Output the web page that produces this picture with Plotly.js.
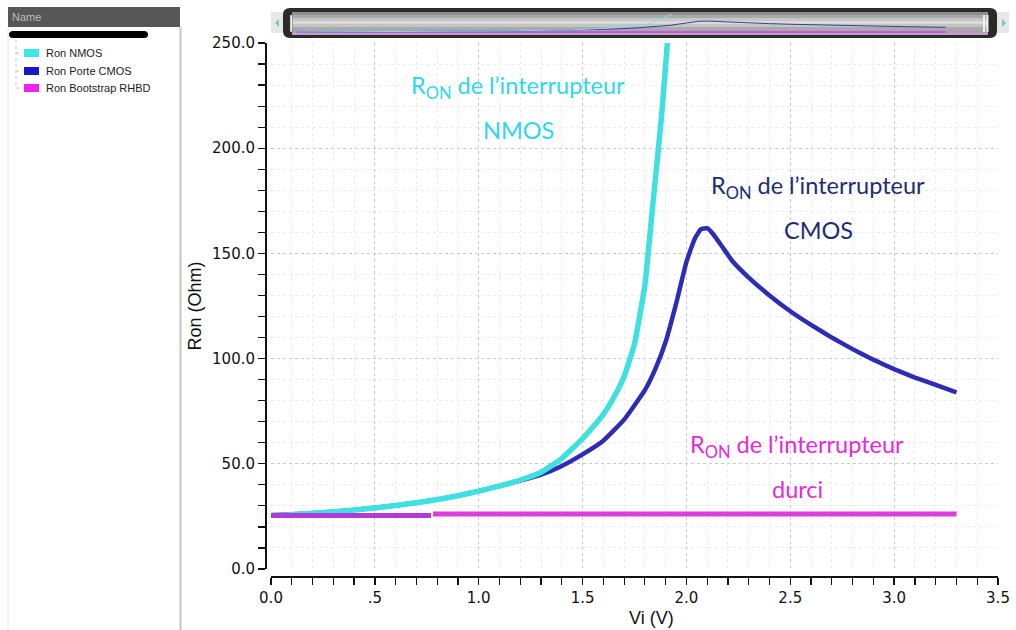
<!DOCTYPE html>
<html>
<head>
<meta charset="utf-8">
<script src="https://cdn.plot.ly/plotly-3.0.1.min.js"></script>
<style>
html,body{margin:0;padding:0;background:#fff;}
#chart{width:1016px;height:630px;}
</style>
</head>
<body>
<div id="chart"></div>
<script>
// ---- data ----
const seriesNames = ['Ron NMOS', 'Ron Porte CMOS', 'Ron Bootstrap RHBD'];

const nmosVi  = [0, 0.1, 0.2, 0.3, 0.4, 0.5, 0.6, 0.7, 0.8, 0.9, 1.0, 1.1, 1.2, 1.3, 1.4, 1.5, 1.55, 1.6, 1.65, 1.7, 1.75, 1.8, 1.84, 1.88, 1.91];
const nmosRon = [25.5, 25.8, 26.5, 27.2, 28.0, 29.0, 30.2, 31.5, 33.0, 34.8, 37.0, 39.5, 42.3, 46.0, 52.5, 62.0, 67.5, 73.5, 81.5, 91.5, 107, 135, 175, 215, 252];

const cmosVi  = [0, 0.2, 0.4, 0.6, 0.8, 1.0, 1.2, 1.3, 1.4, 1.5, 1.6, 1.7, 1.8, 1.85, 1.9, 1.95, 2.0, 2.04, 2.07, 2.1, 2.13, 2.17, 2.22, 2.3, 2.4, 2.5, 2.6, 2.7, 2.8, 2.9, 3.0, 3.1, 3.2, 3.3];
const cmosRon = [25.5, 26.5, 28.0, 30.2, 33.0, 37.0, 42.0, 44.8, 49.0, 54.5, 61.0, 71.0, 85.0, 95.0, 108, 126, 146, 157, 161.5, 162, 159, 153.5, 146.5, 138.5, 130, 122.5, 116, 110, 104.5, 99.5, 95, 91, 87.5, 84];

const rhbdVi  = [0, 0.77, 0.78, 3.3];
const rhbdRon = [25.4, 25.4, 26.2, 26.2];

const xTickVals = [0, 0.5, 1.0, 1.5, 2.0, 2.5, 3.0, 3.5];
const xTickText = ['0.0', '.5', '1.0', '1.5', '2.0', '2.5', '3.0', '3.5'];
const yTickVals = [0, 50, 100, 150, 200, 250];

const xTitle = 'Vi (V)';
const yTitle = 'Ron (Ohm)';

const annoLines = [
  ['R<sub>ON</sub> de l’interrupteur', 'NMOS'],
  ['R<sub>ON</sub> de l’interrupteur', 'CMOS'],
  ['R<sub>ON</sub> de l’interrupteur', 'durci']
];

// ---- colours ----
const cCyan = '#40e0e0', cBlue = '#2c2cb4', cMag = '#dd3ddd', cMagDark = '#b23ad6';

const W = 1016, H = 630;
const px = v => v / W;
const py = v => 1 - v / H;

const split = rhbdVi.indexOf(0.77) + 1;

const traces = [
  {x: cmosVi, y: cmosRon, name: seriesNames[1], mode: 'lines', line: {color: cBlue, width: 4.5, shape: 'spline', smoothing: 0.35}, xaxis: 'x', yaxis: 'y', showlegend: false},
  {x: nmosVi, y: nmosRon, name: seriesNames[0], mode: 'lines', line: {color: cCyan, width: 5.5, shape: 'spline', smoothing: 0.35}, xaxis: 'x', yaxis: 'y', showlegend: false},
  {x: rhbdVi.slice(0, split), y: rhbdRon.slice(0, split), name: seriesNames[2], mode: 'lines', line: {color: cMagDark, width: 5}, xaxis: 'x', yaxis: 'y', showlegend: false},
  {x: rhbdVi.slice(split), y: rhbdRon.slice(split), name: seriesNames[2], mode: 'lines', line: {color: cMag, width: 5}, xaxis: 'x', yaxis: 'y', showlegend: false},
  // overview strip in the scroll bar
  {x: rhbdVi, y: rhbdRon, mode: 'lines', line: {color: '#c060d0', width: 2}, xaxis: 'x2', yaxis: 'y2', showlegend: false, hoverinfo: 'skip'},
  {x: cmosVi, y: cmosRon, mode: 'lines', line: {color: '#3a3aa0', width: 1}, xaxis: 'x2', yaxis: 'y2', showlegend: false, hoverinfo: 'skip'},
  {x: nmosVi, y: nmosRon, mode: 'lines', line: {color: '#80e0e0', width: 1}, xaxis: 'x2', yaxis: 'y2', showlegend: false, hoverinfo: 'skip'}
];

const tickFont = {family: 'DejaVu Sans, Verdana, sans-serif', size: 15, color: '#111'};
const titleFont = {family: 'Liberation Sans, Arial, sans-serif', size: 18, color: '#111'};

const shapes = [];
const annotations = [];

// left "Name" panel
shapes.push({type: 'rect', xref: 'paper', yref: 'paper', x0: px(8), x1: px(180), y0: py(27), y1: py(7), fillcolor: '#575757', line: {width: 0}, layer: 'above'});
shapes.push({type: 'line', xref: 'paper', yref: 'paper', x0: px(180.5), x1: px(180.5), y0: py(27), y1: py(630), line: {color: '#c4c4c4', width: 2}});
shapes.push({type: 'line', xref: 'paper', yref: 'paper', x0: px(8), x1: px(8), y0: py(27), y1: py(630), line: {color: '#e4e4e4', width: 1}});
shapes.push({type: 'path', xref: 'paper', yref: 'paper', layer: 'above',
  path: `M ${px(13)},${py(31)} L ${px(144)},${py(31)} Q ${px(148)},${py(31)} ${px(148)},${py(34.5)} Q ${px(148)},${py(38)} ${px(144)},${py(38)} L ${px(13)},${py(38)} Q ${px(9)},${py(38)} ${px(9)},${py(34.5)} Q ${px(9)},${py(31)} ${px(13)},${py(31)} Z`,
  fillcolor: '#000', line: {width: 0}});
annotations.push({xref: 'paper', yref: 'paper', x: px(10), y: py(17), text: 'Name', showarrow: false, xanchor: 'left', yanchor: 'middle', font: {family: 'Liberation Sans, Arial, sans-serif', size: 11, color: '#bdbdbd'}});
// tree lines
shapes.push({type: 'line', xref: 'paper', yref: 'paper', x0: px(16), x1: px(16), y0: py(40), y1: py(88), line: {color: '#c8c8c8', width: 1, dash: 'dot'}});
const legendColors = ['#3ee8e8', '#1818c8', '#ee22ee'];
const legendY = [53, 71, 88];
seriesNames.forEach((n, i) => {
  const yc = legendY[i];
  shapes.push({type: 'line', xref: 'paper', yref: 'paper', x0: px(16), x1: px(23), y0: py(yc), y1: py(yc), line: {color: '#c8c8c8', width: 1, dash: 'dot'}});
  shapes.push({type: 'rect', xref: 'paper', yref: 'paper', x0: px(24), x1: px(39), y0: py(yc + 4), y1: py(yc - 4), fillcolor: legendColors[i], line: {width: 0}});
  annotations.push({xref: 'paper', yref: 'paper', x: px(44), y: py(yc), text: n, showarrow: false, xanchor: 'left', yanchor: 'middle', font: {family: 'Liberation Sans, Arial, sans-serif', size: 11, color: '#222'}});
});

// scroll bar at top
shapes.push({type: 'path', xref: 'paper', yref: 'paper', layer: 'below',
  path: `M ${px(290)},${py(8)} L ${px(990)},${py(8)} Q ${px(997)},${py(8)} ${px(997)},${py(15)} L ${px(997)},${py(31)} Q ${px(997)},${py(38)} ${px(990)},${py(38)} L ${px(290)},${py(38)} Q ${px(283)},${py(38)} ${px(283)},${py(31)} L ${px(283)},${py(15)} Q ${px(283)},${py(8)} ${px(290)},${py(8)} Z`,
  fillcolor: '#2b2a28', line: {width: 0}});
const stripes = [[12, 15, '#8f8f8f'], [15, 18, '#a9a9a9'], [18, 21, '#c6c6c6'], [21, 24, '#dadada'], [24, 27, '#c4c4c4'], [27, 30, '#aaaaaa'], [30, 33, '#b49cb8'], [33, 35, '#c0a0c8']];
stripes.forEach(s => shapes.push({type: 'rect', xref: 'paper', yref: 'paper', layer: 'below', x0: px(292), x1: px(988), y0: py(s[1]), y1: py(s[0]), fillcolor: s[2], line: {width: 0}}));
shapes.push({type: 'rect', xref: 'paper', yref: 'paper', layer: 'above', x0: px(290), x1: px(292.5), y0: py(32), y1: py(15), fillcolor: '#f0f0f0', line: {color: '#555', width: 0.5}});
shapes.push({type: 'rect', xref: 'paper', yref: 'paper', layer: 'above', x0: px(983), x1: px(985), y0: py(32), y1: py(15), fillcolor: '#f0f0f0', line: {width: 0}});
shapes.push({type: 'rect', xref: 'paper', yref: 'paper', layer: 'above', x0: px(986.5), x1: px(988.5), y0: py(32), y1: py(15), fillcolor: '#f0f0f0', line: {width: 0}});
shapes.push({type: 'path', xref: 'paper', yref: 'paper', path: `M ${px(275)},${py(23)} L ${px(279)},${py(19)} L ${px(279)},${py(27)} Z`, fillcolor: '#7fc0c8', line: {width: 0}});
shapes.push({type: 'path', xref: 'paper', yref: 'paper', path: `M ${px(1006)},${py(23)} L ${px(1002)},${py(19)} L ${px(1002)},${py(27)} Z`, fillcolor: '#7fc0c8', line: {width: 0}});
shapes.push({type: 'rect', xref: 'paper', yref: 'paper', layer: 'below', x0: px(271), x1: px(283), y0: py(33), y1: py(12), fillcolor: '#e8e8e8', line: {width: 0}});
shapes.push({type: 'rect', xref: 'paper', yref: 'paper', layer: 'below', x0: px(997), x1: px(1009), y0: py(33), y1: py(12), fillcolor: '#e8e8e8', line: {width: 0}});

// text annotations in the plot
const annoPos = [[518, 87, 130, '#2fd6ec'], [818, 187, 230, '#1c2e70'], [797, 446, 489, '#e42cd2']];
annoLines.forEach((lines, i) => {
  const p = annoPos[i];
  annotations.push({xref: 'paper', yref: 'paper', x: px(p[0]), y: py(p[1]), text: lines[0], showarrow: false, xanchor: 'center', yanchor: 'middle', font: {family: 'Lato, Open Sans, sans-serif', size: 23.5, color: p[3]}});
  annotations.push({xref: 'paper', yref: 'paper', x: px(p[0]), y: py(p[2]), text: lines[1], showarrow: false, xanchor: 'center', yanchor: 'middle', font: {family: 'Lato, Open Sans, sans-serif', size: 23.5, color: p[3]}});
});

// x axis title (placed where the reference has it)
annotations.push({xref: 'paper', yref: 'paper', x: px(651), y: py(618), text: xTitle, showarrow: false, xanchor: 'center', yanchor: 'middle', font: titleFont});

const layout = {
  width: W, height: H,
  margin: {l: 0, r: 0, t: 0, b: 0},
  paper_bgcolor: '#ffffff',
  plot_bgcolor: '#ffffff',
  showlegend: false,
  xaxis: {
    domain: [px(271), px(998)],
    range: [0, 3.5],
    anchor: 'free', position: py(576),
    tickvals: xTickVals, ticktext: xTickText,
    ticks: 'outside', ticklen: 7, tickwidth: 1.3, tickcolor: '#111',
    showline: true, linecolor: '#111', linewidth: 1.5,
    showgrid: true, gridcolor: '#c9c9c9', griddash: 'dot', gridwidth: 1,
    minor: {dtick: 0.1, ticks: 'outside', ticklen: 7, tickcolor: '#111', tickwidth: 1.2, showgrid: true, gridcolor: '#ececec', griddash: 'dot', gridwidth: 1},
    zeroline: false,
    tickfont: tickFont,
    automargin: false,
    fixedrange: true
  },
  yaxis: {
    domain: [py(569), py(43)],
    range: [0, 250],
    anchor: 'free', position: px(265),
    tickvals: yTickVals, tickformat: '.1f',
    ticks: 'outside', ticklen: 7, tickwidth: 1.3, tickcolor: '#111',
    showline: true, linecolor: '#111', linewidth: 1.5,
    showgrid: true, gridcolor: '#c9c9c9', griddash: 'dot', gridwidth: 1,
    minor: {dtick: 10, ticks: 'outside', ticklen: 7, tickcolor: '#111', tickwidth: 1.2, showgrid: true, gridcolor: '#ececec', griddash: 'dot', gridwidth: 1},
    zeroline: false,
    tickfont: tickFont,
    title: {text: yTitle, font: titleFont, standoff: 4},
    automargin: false,
    fixedrange: true
  },
  xaxis2: {domain: [px(296), px(985)], range: [0, 3.5], anchor: 'y2', visible: false, fixedrange: true},
  yaxis2: {domain: [py(34), py(14)], range: [0, 250], anchor: 'x2', visible: false, fixedrange: true},
  shapes: shapes,
  annotations: annotations
};

Plotly.newPlot('chart', traces, layout, {displayModeBar: false, staticPlot: true});
</script>
</body>
</html>
